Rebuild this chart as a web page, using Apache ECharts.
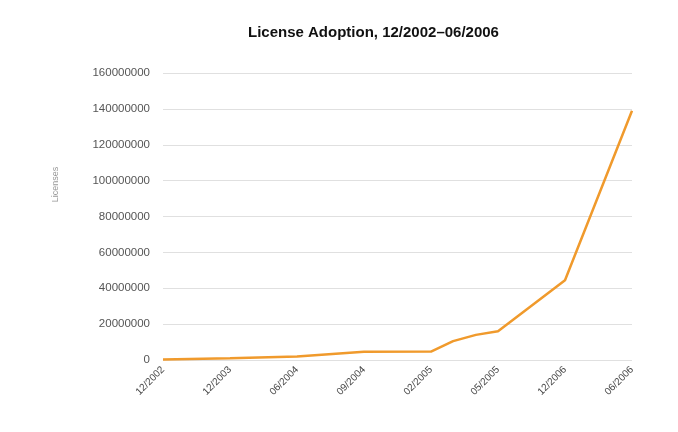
<!DOCTYPE html>
<html>
<head>
<meta charset="utf-8">
<script src="https://cdn.jsdelivr.net/npm/echarts@6/dist/echarts.min.js"></script>
<style>html,body{margin:0;padding:0;background:#fff;}#c{width:678px;height:432px;}</style>
</head>
<body>
<div id="c"></div>
<script>
var tickLabels = ['12/2002','12/2003','06/2004','09/2004','02/2005','05/2005','12/2006','06/2006'];
var xPositions = [0, 1, 2, 3, 4, 4.33, 4.67, 5, 6, 7];
var licenses = [300000, 1000000, 2000000, 4600000, 4700000, 10500000, 14000000, 16000000, 44500000, 139000000];

var points = xPositions.map(function (x, i) { return [x, licenses[i]]; });

var chart = echarts.init(document.getElementById('c'));
chart.setOption({
  animation: false,
  backgroundColor: '#fff',
  title: {
    text: 'License Adoption, 12/2002\u201306/2006',
    left: 243, top: 20,
    textStyle: { fontFamily: 'Liberation Sans, Arial, sans-serif', fontSize: 15, fontWeight: 'bold', color: '#111' }
  },
  grid: { left: 163, right: 46, top: 73, bottom: 72 },
  xAxis: {
    type: 'value', min: 0, max: 7, interval: 1,
    axisLine: { show: false }, axisTick: { show: false }, splitLine: { show: false },
    axisLabel: {
      rotate: 45, margin: 8, color: '#444', fontSize: 10,
      fontFamily: 'Liberation Sans, Arial, sans-serif',
      formatter: function (v) { return tickLabels[Math.round(v)] || ''; }
    }
  },
  yAxis: {
    type: 'value', min: 0, max: 160000000, interval: 20000000,
    name: 'Licenses', nameLocation: 'middle', nameGap: 103, nameRotate: 90,
    nameTextStyle: { color: '#999', fontSize: 9, fontFamily: 'Liberation Sans, Arial, sans-serif', padding: [0, 0, 0, 64] },
    axisLine: { show: false }, axisTick: { show: false },
    axisLabel: { color: '#555', fontSize: 11.5, margin: 13, fontFamily: 'Liberation Sans, Arial, sans-serif',
      formatter: function (v) { return String(v); } },
    splitLine: { lineStyle: { color: '#e0e0e0', width: 1, type: 'solid' } }
  },
  series: [{
    type: 'line', data: points, showSymbol: false, symbol: 'none',
    lineStyle: { color: '#f09a2c', width: 2.5 }
  }]
});
</script>
</body>
</html>
